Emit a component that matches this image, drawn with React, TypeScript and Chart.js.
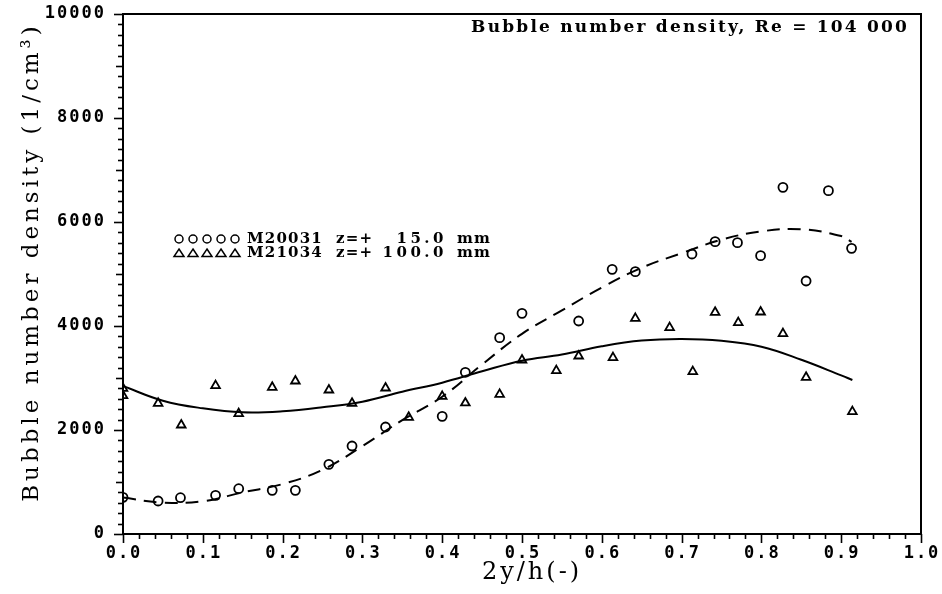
import React, { useEffect, useRef } from 'react';
import { Chart, registerables } from 'chart.js';

Chart.register(...registerables);

// ---- data ----
const circleX = [0, 0.044, 0.072, 0.116, 0.145, 0.187, 0.216, 0.258, 0.287, 0.329, 0.4, 0.429, 0.472, 0.5, 0.571, 0.613, 0.642, 0.713, 0.742, 0.77, 0.799, 0.827, 0.856, 0.884, 0.913];
const circleY = [705, 635, 698, 744, 871, 840, 840, 1340, 1692, 2058, 2263, 3110, 3776, 4244, 4096, 5090, 5045, 5385, 5622, 5603, 5353, 6667, 4865, 6603, 5494];

const triX = [0, 0, 0.044, 0.073, 0.116, 0.145, 0.187, 0.216, 0.258, 0.287, 0.329, 0.358, 0.4, 0.429, 0.472, 0.5, 0.543, 0.571, 0.614, 0.642, 0.685, 0.714, 0.742, 0.771, 0.799, 0.827, 0.856, 0.914];
const triY = [2800, 2660, 2513, 2096, 2853, 2314, 2821, 2942, 2769, 2513, 2808, 2244, 2647, 2520, 2686, 3346, 3141, 3423, 3391, 4147, 3968, 3122, 4263, 4064, 4269, 3853, 3013, 2353];

const dashFitX = [0, 0.05, 0.1, 0.15, 0.2, 0.25, 0.3, 0.35, 0.4, 0.45, 0.5, 0.55, 0.6, 0.65, 0.7, 0.75, 0.8, 0.85, 0.9, 0.913];
const dashFitY = [700, 605, 630, 800, 960, 1235, 1690, 2190, 2640, 3260, 3850, 4300, 4740, 5120, 5400, 5660, 5820, 5860, 5730, 5620];

const solidFitX = [0, 0.05, 0.1, 0.15, 0.2, 0.25, 0.3, 0.35, 0.4, 0.45, 0.5, 0.55, 0.6, 0.65, 0.7, 0.75, 0.8, 0.85, 0.9, 0.914];
const solidFitY = [2846, 2564, 2417, 2340, 2359, 2436, 2545, 2737, 2910, 3130, 3333, 3450, 3610, 3720, 3750, 3715, 3600, 3350, 3050, 2962];

const xTickLabels = ['0.0', '0.1', '0.2', '0.3', '0.4', '0.5', '0.6', '0.7', '0.8', '0.9', '1.0'];
const yTickLabels = ['0', '2000', '4000', '6000', '8000', '10000'];

const chartTitle = 'Bubble number density, Re = 104 000';
const xTitle = '2y/h(-)';
const yTitle = 'Bubble number density (1/cm\u00B3)';

const legendIds = ['M20031', 'M21034'];
const legendZ = ['z=+', 'z=+'];
const legendPos = ['15.0', '100.0'];
const legendUnit = ['mm', 'mm'];

const X_MIN = 0, X_MAX = 1, X_MINOR = 0.02;
const Y_MIN = 0, Y_MAX = 10000, Y_MINOR = 200;

const drawPlugin = {
  id: 'decor',
  afterDraw(chart: any) {
    const ctx = chart.ctx as CanvasRenderingContext2D;
    const { left, right, top, bottom } = chart.chartArea;
    const xs = chart.scales.x;
    const ys = chart.scales.y;
    ctx.save();
    ctx.strokeStyle = '#000';
    ctx.fillStyle = '#000';
    // frame
    ctx.lineWidth = 2;
    ctx.strokeRect(left, top, right - left, bottom - top);

    // x ticks
    ctx.lineWidth = 1.6;
    const nx = Math.round((X_MAX - X_MIN) / X_MINOR);
    for (let i = 0; i <= nx; i++) {
      const v = X_MIN + i * X_MINOR;
      const px = Math.round(xs.getPixelForValue(v)) + 0.5;
      const major = i % 5 === 0;
      ctx.beginPath();
      ctx.moveTo(px, bottom);
      ctx.lineTo(px, bottom + (major ? 9 : 5));
      ctx.stroke();
    }
    // y ticks
    const ny = Math.round((Y_MAX - Y_MIN) / Y_MINOR);
    for (let i = 0; i <= ny; i++) {
      const v = Y_MIN + i * Y_MINOR;
      const py = Math.round(ys.getPixelForValue(v)) + 0.5;
      const major = i % 10 === 0;
      const mid = i % 5 === 0;
      ctx.beginPath();
      ctx.moveTo(left, py);
      ctx.lineTo(left - (major ? 9 : mid ? 7 : 5), py);
      ctx.stroke();
    }

    // tick labels
    (ctx as any).letterSpacing = '2px';
    ctx.font = 'bold 17px "DejaVu Sans Mono"';
    ctx.textBaseline = 'middle';
    ctx.textAlign = 'center';
    xTickLabels.forEach((t) => {
      const px = xs.getPixelForValue(parseFloat(t));
      ctx.fillText(t, px + 1, bottom + 20);
    });
    ctx.textAlign = 'right';
    yTickLabels.forEach((t) => {
      const py = ys.getPixelForValue(parseFloat(t));
      ctx.fillText(t, left - 17, py);
    });

    // axis titles
    (ctx as any).letterSpacing = '3px';
    ctx.font = '24px "DejaVu Serif"';
    ctx.textAlign = 'center';
    ctx.textBaseline = 'middle';
    ctx.fillText(xTitle, 532, bottom + 39);

    (ctx as any).letterSpacing = '4px';
    ctx.font = '23px "DejaVu Serif"';
    ctx.save();
    ctx.translate(32, 262);
    ctx.rotate(-Math.PI / 2);
    ctx.fillText(yTitle, 0, 0);
    ctx.restore();

    // chart title inside plot, top right
    (ctx as any).letterSpacing = '2.2px';
    ctx.font = 'bold 17px "DejaVu Serif"';
    ctx.textAlign = 'right';
    ctx.textBaseline = 'middle';
    ctx.fillText(chartTitle, right - 12, top + 14);

    // legend
    ctx.font = 'bold 15px "DejaVu Serif"';
    ctx.textBaseline = 'middle';
    const rows = [239, 253];
    rows.forEach((ry, r) => {
      ctx.lineWidth = 1.5;
      for (let k = 0; k < 5; k++) {
        const mx = 179 + k * 14;
        ctx.beginPath();
        if (r === 0) {
          ctx.arc(mx, ry, 4, 0, Math.PI * 2);
        } else {
          ctx.moveTo(mx, ry - 4);
          ctx.lineTo(mx + 5, ry + 3.5);
          ctx.lineTo(mx - 5, ry + 3.5);
          ctx.closePath();
        }
        ctx.stroke();
      }
      (ctx as any).letterSpacing = '1.2px';
      ctx.textAlign = 'left';
      ctx.fillText(legendIds[r], 247, ry);
      ctx.fillText(legendZ[r], 336, ry);
      ctx.fillText(legendUnit[r], 457, ry);
      (ctx as any).letterSpacing = '3.5px';
      ctx.textAlign = 'right';
      ctx.fillText(legendPos[r], 447, ry);
    });
    ctx.restore();
  },
};

export default function App() {
  const canvasRef = useRef<HTMLCanvasElement | null>(null);

  useEffect(() => {
    const canvas = canvasRef.current;
    if (!canvas) return;
    const chart = new Chart(canvas, {
      type: 'scatter',
      data: {
        datasets: [
          {
            label: legendIds[0],
            data: circleX.map((x, i) => ({ x, y: circleY[i] })),
            pointStyle: 'circle',
            pointRadius: 4.5,
            pointBorderWidth: 1.8,
            borderColor: '#000',
            backgroundColor: 'rgba(0,0,0,0)',
            showLine: false,
          },
          {
            label: legendIds[1],
            data: triX.map((x, i) => ({ x, y: triY[i] })),
            pointStyle: 'triangle',
            pointRadius: 5,
            pointBorderWidth: 1.8,
            borderColor: '#000',
            backgroundColor: 'rgba(0,0,0,0)',
            showLine: false,
          },
          {
            label: 'fit1',
            data: dashFitX.map((x, i) => ({ x, y: dashFitY[i] })),
            showLine: true,
            pointRadius: 0,
            borderColor: '#000',
            borderWidth: 2,
            borderDash: [13, 8],
            tension: 0.4,
            fill: false,
          },
          {
            label: 'fit2',
            data: solidFitX.map((x, i) => ({ x, y: solidFitY[i] })),
            showLine: true,
            pointRadius: 0,
            borderColor: '#000',
            borderWidth: 2,
            tension: 0.4,
            fill: false,
          },
        ],
      } as any,
      options: {
        animation: false,
        responsive: false,
        maintainAspectRatio: false,
        layout: { padding: { top: 14, right: 21, left: 0, bottom: 0 } },
        plugins: {
          legend: { display: false },
          tooltip: { enabled: false },
          title: { display: false },
        },
        scales: {
          x: {
            type: 'linear',
            min: X_MIN,
            max: X_MAX,
            ticks: { display: false },
            grid: { display: false },
            border: { display: false },
            afterFit: (s: any) => {
              s.height = 60;
            },
          },
          y: {
            type: 'linear',
            min: Y_MIN,
            max: Y_MAX,
            ticks: { display: false },
            grid: { display: false },
            border: { display: false },
            afterFit: (s: any) => {
              s.width = 123;
            },
          },
        },
      } as any,
      plugins: [drawPlugin],
    });
    return () => chart.destroy();
  }, []);

  return (
    <div style={{ position: 'absolute', left: 0, top: 0, width: 942, height: 594, background: '#fff' }}>
      <canvas ref={canvasRef} width={942} height={594} style={{ width: 942, height: 594, display: 'block' }} />
    </div>
  );
}
